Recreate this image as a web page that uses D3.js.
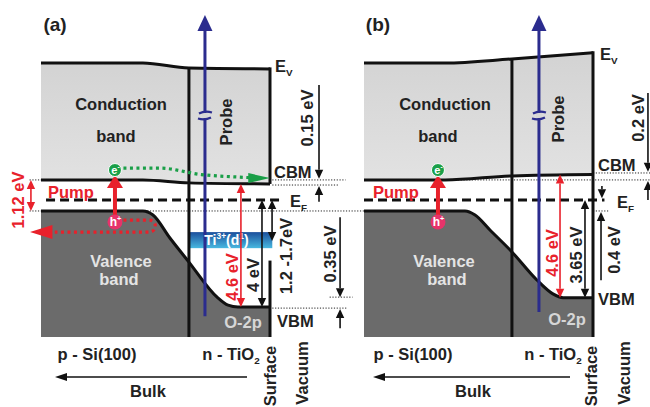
<!DOCTYPE html>
<html>
<head>
<meta charset="utf-8">
<script src="https://cdn.jsdelivr.net/npm/d3@7"></script>
<style>
  body { margin: 0; background: #fff; }
  svg { display: block; font-family: "Liberation Sans", Arial, sans-serif; font-weight: bold; }
</style>
</head>
<body>
<svg id="chart" width="650" height="407"></svg>
<script>
// energies in eV relative to E_F, position u: 0 = bulk edge of the drawing, 1 = TiO2 surface
const energyRange = [-5.12, 5.12];
const interfaceU = 0.646;
const pumpU = 0.323;
const electronE = 1.12;
const holeE = -0.82;

// panel (a)
const cbUA = [0, 0.445, 0.646, 1];
const cbTopA = [5.12, 5.12, 4.93, 4.9];
const cbmA = [0.75, 0.75, 0.64, 0.6];
const vbUA = [0, 0.445, 0.489, 0.563, 0.646, 0.769, 0.817, 0.86, 1];
const vbA = [-0.41, -0.41, -0.56, -1.42, -2.32, -3.63, -3.93, -4.0, -4.0];
const tiBandA = [-1.2, -1.8];
const probeUA = 0.716;

// panel (b)
const cbUB = [0, 0.354, 0.646, 1];
const cbTopB = [5.12, 5.12, 5.27, 5.5];
const cbmB = [0.75, 0.75, 0.9, 0.95];
const vbUB = [0, 0.441, 0.485, 0.55, 0.646, 0.755, 0.825, 0.869, 1];
const vbB = [-0.41, -0.41, -0.56, -1.12, -1.94, -2.99, -3.51, -3.65, -3.65];
const probeUB = 0.764;

// energy arrows: [u, from, to, double, color]
const arrowsA = [
  [-0.044, 0.75, -0.41, true, "red"],
  [0.873, 0.6, -4.0, true, "red"],
  [0.965, 0, -4.0, true, "black"],
  [1.009, 0, -1.53, true, "black"],
  [1.214, 4.3, 0.79, false, "black"],
  [1.214, -0.07, 0.52, false, "black"],
  [1.306, -0.64, -3.63, false, "black"],
  [1.306, -4.79, -4.07, false, "black"]
];
const arrowsB = [
  [0.856, 0.95, -3.65, true, "red"],
  [0.965, 0, -3.65, true, "black"],
  [1.24, 4.0, 1.06, false, "black"],
  [1.24, 0, 0.71, false, "black"],
  [1.039, 0.52, 0.07, false, "black"],
  [1.035, -3.0, -0.45, false, "black"]
];

// dotted level guides: [energy, u0, u1]
const guidesA = [[0.75, -0.05, 0], [0.75, 1.01, 1.33], [0.56, 1.01, 1.3], [-0.41, -0.05, 1.41], [-4.04, 1.01, 1.34]];
const guidesB = [[-3.63, -0.15, -0.05], [0.75, 0.3, 1.25], [1.01, 1.0, 1.25], [-0.41, 1.0, 1.07]];

const RED = "#e8212b", NAVY = "#2b2c8e", GREEN = "#1a9f48", INK = "#111";

const svg = d3.select("#chart");
const y = d3.scaleLinear().domain(energyRange).range([337, 63]);
const xA = d3.scaleLinear().domain([0, 1]).range([41, 270]);
const xB = d3.scaleLinear().domain([0, 1]).range([364, 593]);

const defs = svg.append("defs");
const cbGrad = defs.append("linearGradient").attr("id", "cbg").attr("x1", 0).attr("y1", 0).attr("x2", 0).attr("y2", 1);
cbGrad.append("stop").attr("offset", "0%").attr("stop-color", "#d3d3d3");
cbGrad.append("stop").attr("offset", "100%").attr("stop-color", "#e2e2e2");
const tiGrad = defs.append("linearGradient").attr("id", "tig").attr("x1", 0).attr("y1", 0).attr("x2", 0).attr("y2", 1);
tiGrad.append("stop").attr("offset", "0%").attr("stop-color", "#1b4f9c");
tiGrad.append("stop").attr("offset", "100%").attr("stop-color", "#48b8e0");

function head(g, x, yy, dir, len, half, color) {
  const s = dir === "down" ? -1 : 1;
  let pts;
  if (dir === "up" || dir === "down") pts = [[x, yy], [x - half, yy + s * len], [x + half, yy + s * len]];
  else { const t = dir === "left" ? 1 : -1; pts = [[x, yy], [x + t * len, yy - half], [x + t * len, yy + half]]; }
  g.append("polygon").attr("points", pts.map(p => p.join(",")).join(" ")).attr("fill", color);
}

function vArrow(g, x, y0, y1, dbl, color) {
  const c = color === "red" ? RED : INK;
  const len = 9, half = 4.2;
  const dir = y1 < y0 ? "up" : "down";
  const s = dir === "up" ? 1 : -1;
  g.append("line").attr("x1", x).attr("x2", x)
    .attr("y1", dbl ? y0 - s * len : y0).attr("y2", y1 + s * len)
    .attr("stroke", c).attr("stroke-width", 1.6);
  head(g, x, y1, dir, len, half, c);
  if (dbl) head(g, x, y0, dir === "up" ? "down" : "up", len, half, c);
}

function txt(g, s, x, yy, o = {}) {
  const fs = o.size || 16.5;
  const t = g.append("text")
    .attr("font-size", fs)
    .attr("fill", o.color || "#222")
    .attr("text-anchor", o.anchor || "middle");
  if (o.rotate) {
    t.attr("transform", `translate(${x},${yy}) rotate(-90)`).attr("dominant-baseline", "central");
  } else {
    t.attr("x", x).attr("y", yy);
  }
  const parts = Array.isArray(s) ? s : [[s]];
  let shift = 0;
  parts.forEach(([str, kind]) => {
    const sp = t.append("tspan").text(str);
    const target = kind === "sub" ? fs * 0.25 : kind === "sup" ? -fs * 0.4 : 0;
    if (kind === "sub" || kind === "sup") sp.attr("font-size", fs * 0.6);
    if (target !== shift) sp.attr("dy", target - shift);
    shift = target;
  });
  return t;
}

function drawPanel(x, d) {
  const g = svg.append("g");
  const mono = d3.curveMonotoneX;

  // dotted guides
  d.guides.forEach(([e, u0, u1]) => {
    g.append("line").attr("x1", x(u0)).attr("x2", x(u1)).attr("y1", y(e)).attr("y2", y(e))
      .attr("stroke", "#222").attr("stroke-width", 1).attr("stroke-dasharray", "1.2 1.6");
  });

  const cb = d.cbU.map((u, i) => ({ u, top: d.cbTop[i], bot: d.cbm[i] }));
  const vb = d.vbU.map((u, i) => ({ u, e: d.vb[i] }));

  g.append("path").datum(cb)
    .attr("d", d3.area().x(p => x(p.u)).y0(p => y(p.bot)).y1(p => y(p.top)).curve(mono))
    .attr("fill", "url(#cbg)");
  g.append("path").datum(vb)
    .attr("d", d3.area().x(p => x(p.u)).y0(y(energyRange[0])).y1(p => y(p.e)).curve(mono))
    .attr("fill", "#6b6b6b");

  if (d.ti) {
    g.append("rect").attr("x", x(interfaceU)).attr("width", x(1.01) - x(interfaceU))
      .attr("y", y(d.ti[0])).attr("height", y(d.ti[1]) - y(d.ti[0])).attr("fill", "url(#tig)");
  }

  const edge = { fill: "none", stroke: INK, "stroke-width": 3 };
  const styl = s => Object.entries(edge).forEach(([k, v]) => s.attr(k, v));
  styl(g.append("path").datum(cb).attr("d", d3.line().x(p => x(p.u)).y(p => y(p.top)).curve(mono)));
  styl(g.append("path").datum(cb).attr("d", d3.line().x(p => x(p.u)).y(p => y(p.bot)).curve(mono)));
  styl(g.append("path").datum(vb).attr("d", d3.line().x(p => x(p.u)).y(p => y(p.e)).curve(mono)));

  // interface and surface
  const iTop = d.cbTop[2];
  styl(g.append("line").attr("x1", x(interfaceU)).attr("x2", x(interfaceU)).attr("y1", y(iTop)).attr("y2", y(energyRange[0])));
  d.surface.forEach(([e0, e1]) => {
    styl(g.append("line").attr("x1", x(1)).attr("x2", x(1)).attr("y1", y(e0) - 1.5).attr("y2", y(e1)));
  });

  // Fermi level
  g.append("line").attr("x1", x(d.efStart)).attr("x2", x(1.05)).attr("y1", y(0)).attr("y2", y(0))
    .attr("stroke", INK).attr("stroke-width", 3).attr("stroke-dasharray", "9 5");

  // probe
  const px = x(d.probeU);
  g.append("line").attr("x1", px).attr("x2", px).attr("y1", y(d.probeBottom)).attr("y2", 28)
    .attr("stroke", NAVY).attr("stroke-width", 3);
  head(g, px, 15, "up", 16, 7.5, NAVY);
  g.append("rect").attr("x", px - 3).attr("y", 113).attr("width", 6).attr("height", 5).attr("fill", "#d6d6d6");
  g.append("path").attr("d", `M${px - 6},113.5 Q${px},110.5 ${px + 7},112.5`).attr("stroke", NAVY).attr("stroke-width", 2.2).attr("fill", "none");
  g.append("path").attr("d", `M${px - 7},118.5 Q${px},120.5 ${px + 6},117.5`).attr("stroke", NAVY).attr("stroke-width", 2.2).attr("fill", "none");

  if (d.ti) {
    txt(g, [["Ti"], ["3+", "sup"], ["(d"], ["1", "sup"], [")"]], x(0.81), y(-1.68), { size: 14, color: "#fff" });
  }

  // arrows
  d.arrows.forEach(([u, e0, e1, dbl, c]) => vArrow(g, x(u), y(e0), y(e1), dbl, c));

  // carrier transport (panel a)
  if (d.transport) {
    const gp = [[0.36, 1.19], [0.52, 1.19], [0.7, 0.95], [0.9, 0.84], [0.92, 0.83]];
    g.append("path").datum(gp).attr("d", d3.line().x(p => x(p[0])).y(p => y(p[1])).curve(d3.curveMonotoneX))
      .attr("fill", "none").attr("stroke", GREEN).attr("stroke-width", 3.2).attr("stroke-dasharray", "3 3.5");
    g.append("polygon").attr("points", [[x(1), y(0.82)], [x(0.905), y(0.82) - 5], [x(0.905), y(0.82) + 5]].map(p => p.join(",")).join(" "))
      .attr("fill", GREEN);
    const x0 = x(0.36), x1 = x(0.47), x2 = x(0.06), ya = y(-0.75), yb = y(-1.2);
    g.append("path").attr("d", `M${x0},${ya} L${x1},${ya} C${x1 + 9},${ya} ${x1 + 9},${yb} ${x1},${yb} L${x2},${yb}`)
      .attr("fill", "none").attr("stroke", RED).attr("stroke-width", 3.2).attr("stroke-dasharray", "3 3.5");
    g.append("polygon").attr("points", [[x(-0.048), yb], [x(0.05), yb - 7], [x(0.05), yb + 7]].map(p => p.join(",")).join(" "))
      .attr("fill", RED);
  }

  // pump and carriers
  const cx = x(pumpU);
  g.append("line").attr("x1", cx).attr("x2", cx).attr("y1", y(holeE) - 6).attr("y2", y(electronE) + 16)
    .attr("stroke", RED).attr("stroke-width", 4);
  head(g, cx, y(electronE) + 5, "up", 13, 8, RED);
  g.append("circle").attr("cx", cx).attr("cy", y(electronE)).attr("r", 6.5).attr("fill", GREEN).attr("stroke", "#fff").attr("stroke-width", 1);
  txt(g, [["e"], ["-", "sup"]], cx + 0.5, y(electronE) + 3.5, { size: 11, color: "#fff" });
  g.append("circle").attr("cx", cx).attr("cy", y(holeE)).attr("r", 7.5).attr("fill", "#e6336a");
  txt(g, [["h"], ["+", "sup"]], cx + 0.5, y(holeE) + 4, { size: 12, color: "#fff" });

  return g;
}

const gA = drawPanel(xA, {
  cbU: cbUA, cbTop: cbTopA, cbm: cbmA, vbU: vbUA, vb: vbA, ti: tiBandA,
  guides: guidesA, arrows: arrowsA, probeU: probeUA, probeBottom: -4.34,
  surface: [[cbTopA[3], cbmA[3]], [-2.32, energyRange[0]]], efStart: 0.022, transport: true
});
const gB = drawPanel(xB, {
  cbU: cbUB, cbTop: cbTopB, cbm: cbmB, vbU: vbUB, vb: vbB,
  guides: guidesB, arrows: arrowsB, probeU: probeUB, probeBottom: -4.19,
  surface: [[cbTopB[3], energyRange[0]]], efStart: 0, transport: false
});

// labels panel (a)
txt(gA, "(a)", 55, 31, { size: 19 });
txt(gA, "Conduction", 121, 110);
txt(gA, "band", 116, 142);
txt(gA, "Valence", 121, 267, { color: "#e4e4e4" });
txt(gA, "band", 119, 285, { color: "#e4e4e4" });
txt(gA, "O-2p", 243, 328, { color: "#d6d6d6" });
txt(gA, "Probe", 226, 122, { rotate: true });
txt(gA, [["E"], ["V", "sub"]], 275, 72, { anchor: "start" });
txt(gA, "CBM", 274, 178, { anchor: "start" });
txt(gA, [["E"], ["F", "sub"]], 290, 207, { anchor: "start" });
txt(gA, "VBM", 277, 327, { anchor: "start" });
txt(gA, "0.15 eV", 307, 118, { rotate: true });
txt(gA, "1.12 eV", 18, 200, { rotate: true, color: RED });
txt(gA, "4.6 eV", 232, 277, { rotate: true, color: RED });
txt(gA, "4 eV", 253, 275, { rotate: true });
txt(gA, "1.2 -1.7eV", 286, 256, { rotate: true });
txt(gA, "0.35 eV", 330, 254, { rotate: true });
txt(gA, "Pump", 48, 198, { anchor: "start", color: RED });
txt(gA, "p - Si(100)", 97, 360);
txt(gA, [["n - TiO"], ["2", "sub"]], 231, 360);
txt(gA, "Surface", 270, 376, { rotate: true });
txt(gA, "Vacuum", 302, 373, { rotate: true });
txt(gA, "Bulk", 148, 397);
gA.append("line").attr("x1", 247).attr("x2", 66).attr("y1", 377).attr("y2", 377).attr("stroke", INK).attr("stroke-width", 1.5);
head(gA, 55, 377, "left", 12, 4, INK);

// labels panel (b)
txt(gB, "(b)", 378, 31, { size: 19 });
txt(gB, "Conduction", 445, 110);
txt(gB, "band", 438, 142);
txt(gB, "Valence", 444, 267, { color: "#e4e4e4" });
txt(gB, "band", 447, 285, { color: "#e4e4e4" });
txt(gB, "O-2p", 567, 325, { color: "#d6d6d6" });
txt(gB, "Probe", 558, 119, { rotate: true });
txt(gB, [["E"], ["V", "sub"]], 600, 60, { anchor: "start" });
txt(gB, "CBM", 598, 171, { anchor: "start" });
txt(gB, [["E"], ["F", "sub"]], 617, 208, { anchor: "start" });
txt(gB, "VBM", 598, 305, { anchor: "start" });
txt(gB, "0.2 eV", 638, 118, { rotate: true });
txt(gB, "4.6 eV", 552, 253, { rotate: true, color: RED });
txt(gB, "3.65 eV", 576, 255, { rotate: true });
txt(gB, "0.4 eV", 614, 250, { rotate: true });
txt(gB, "Pump", 373, 198, { anchor: "start", color: RED });
txt(gB, "p - Si(100)", 413, 360);
txt(gB, [["n - TiO"], ["2", "sub"]], 553, 360);
txt(gB, "Surface", 591, 376, { rotate: true });
txt(gB, "Vacuum", 624, 373, { rotate: true });
txt(gB, "Bulk", 473, 397);
gB.append("line").attr("x1", 570).attr("x2", 384).attr("y1", 377).attr("y2", 377).attr("stroke", INK).attr("stroke-width", 1.5);
head(gB, 373, 377, "left", 12, 4, INK);
</script>
</body>
</html>
